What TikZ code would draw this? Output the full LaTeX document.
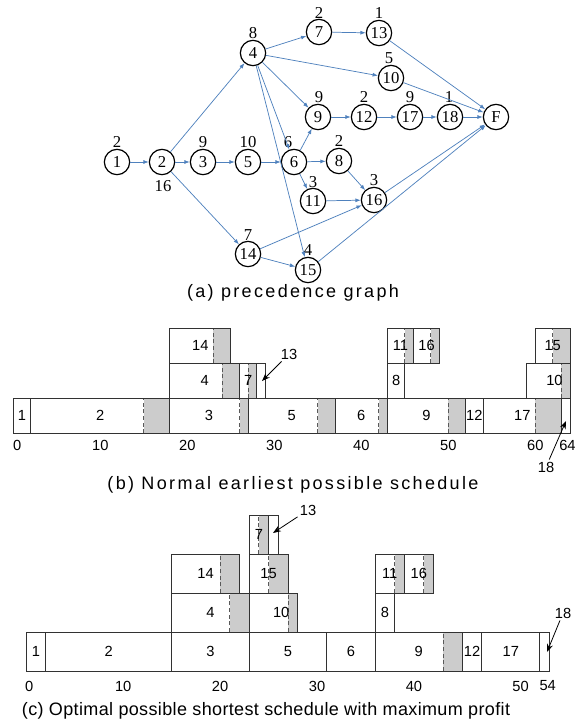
\documentclass[tikz,border=0pt]{standalone}
\usepackage{fontspec}
\setmainfont{Liberation Serif}
\newfontfamily\schedfont{Liberation Sans}
\newfontfamily\capwide[LetterSpace=13]{Liberation Sans}
\newfontfamily\capnarrow[LetterSpace=2]{Liberation Sans}
\usetikzlibrary{arrows.meta}
\definecolor{edgeblue}{RGB}{79,129,189}
\definecolor{shade}{RGB}{204,204,204}
\definecolor{boxline}{RGB}{50,50,50}
\tikzset{
 task/.style={circle, draw=black, line width=0.9pt, minimum size=19pt, inner sep=0pt, font=\fontsize{12.5}{12.5}\selectfont},
 dur/.style={font=\fontsize{12.5}{12.5}\selectfont, inner sep=0pt},
 prec/.style={draw=edgeblue, line width=0.55pt, -{Latex[length=4pt,width=3pt]}},
 jobbox/.style={draw=boxline, line width=0.7pt},
 gfill/.style={fill=shade},
 dashln/.style={draw=black!65, line width=0.7pt, dash pattern=on 3pt off 2pt},
 joblbl/.style={font=\schedfont\fontsize{11}{12}\selectfont, inner sep=0pt},
 axlbl/.style={font=\schedfont\fontsize{11}{12}\selectfont, inner sep=0pt},
 calllbl/.style={font=\schedfont\fontsize{11}{12}\selectfont, inner sep=1.5pt},
 callout/.style={draw=black, line width=0.6pt, -{Stealth[length=6pt,width=4.5pt]}},
 capnode/.style={inner sep=0pt}
}
% name start end row label
\newcommand{\schedW}[5]{%
  \draw[jobbox] (#2,#4) rectangle (#3,#4+1);
  \node[joblbl] (#1) at ({(#2+#3)/2},#4+0.5) {#5};}
% name start dash end row label
\newcommand{\schedG}[6]{%
  \fill[gfill] (#3,#5) rectangle (#4,#5+1);
  \draw[dashln] (#3,#5) -- (#3,#5+1);
  \draw[jobbox] (#2,#5) rectangle (#4,#5+1);
  \node[joblbl] (#1) at ({(#2+#4)/2},#5+0.5) {#6};}
\begin{document}
\begin{tikzpicture}[x=0.75pt,y=-0.75pt]
\useasboundingbox (0,0) rectangle (579,721);
% ---------- (a) precedence graph ----------
\node[task] (n1) at (117,162) {1};
\node[task] (n2) at (162,162) {2};
\node[task] (n3) at (203,162) {3};
\node[task] (n5) at (248,162) {5};
\node[task] (n6) at (294,162) {6};
\node[task] (n8) at (339,161) {8};
\node[task] (n4) at (253,53) {4};
\node[task] (n7) at (319,32) {7};
\node[task] (n13) at (379,33) {13};
\node[task] (n10) at (391,78) {10};
\node[task] (n9) at (318,117) {9};
\node[task] (n12) at (364,117) {12};
\node[task] (n17) at (410,117) {17};
\node[task] (n18) at (450,117) {18};
\node[task] (nF) at (496,117) {F};
\node[task] (n11) at (313,201) {11};
\node[task] (n16) at (374,200) {16};
\node[task] (n14) at (248,254) {14};
\node[task] (n15) at (308,270) {15};
% durations
\path (n1) ++(0,-20) node[dur] (d1) {2};
\path (n2) ++(1,24) node[dur] (d2) {16};
\path (n3) ++(0,-20) node[dur] (d3) {9};
\path (n4) ++(0,-20) node[dur] (d4) {8};
\path (n5) ++(0,-20) node[dur] (d5) {10};
\path (n6) ++(-6,-20) node[dur] (d6) {6};
\path (n7) ++(0,-19) node[dur] (d7) {2};
\path (n8) ++(0,-20) node[dur] (d8) {2};
\path (n9) ++(1,-20) node[dur] (d9) {9};
\path (n10) ++(-2,-20) node[dur] (d10) {5};
\path (n11) ++(0,-19) node[dur] (d11) {3};
\path (n12) ++(0,-20) node[dur] (d12) {2};
\path (n13) ++(0,-20) node[dur] (d13) {1};
\path (n14) ++(0,-19) node[dur] (d14) {7};
\path (n15) ++(0,-20) node[dur] (d15) {4};
\path (n16) ++(0,-20) node[dur] (d16) {3};
\path (n17) ++(0,-20) node[dur] (d17) {9};
\path (n18) ++(-1,-20) node[dur] (d18) {1};
% edges
\draw[prec] (n1) -- (n2);
\draw[prec] (n2) -- (n3);
\draw[prec] (n3) -- (n5);
\draw[prec] (n5) -- (n6);
\draw[prec] (n6) -- (n8);
\draw[prec] (n2) -- (n4);
\draw[prec] (n2) -- (n14);
\draw[prec] (n4) -- (n7);
\draw[prec] (n7) -- (n13);
\draw[prec] (n4) -- (n10);
\draw[prec] (n4) -- (n9);
\draw[prec] (n4) -- (n6);
\draw[prec] (n4) -- (n15);
\draw[prec] (n6) -- (n9);
\draw[prec] (n6) -- (n11);
\draw[prec] (n9) -- (n12);
\draw[prec] (n12) -- (n17);
\draw[prec] (n17) -- (n18);
\draw[prec] (n18) -- (nF);
\draw[prec] (n13) -- (nF);
\draw[prec] (n10) -- (nF);
\draw[prec] (n8) -- (n16);
\draw[prec] (n11) -- (n16);
\draw[prec] (n14) -- (n16);
\draw[prec] (n14) -- (n15);
\draw[prec] (n16) -- (nF);
\draw[prec] (n15) -- (nF);
\node[capnode, font=\capwide\fontsize{13.5}{15}\selectfont] (capa) at (293,293) {(a) precedence graph};
% ---------- (b) normal earliest schedule ----------
\begin{scope}[shift={(13.3,433.3)}, x=6.525pt, y=26.25pt]
\schedW{b1}{0}{2}{0}{1}
\schedG{b2}{2}{15}{18}{0}{2}
\schedG{b3}{18}{26}{27}{0}{3}
\schedG{b5}{27}{35}{37}{0}{5}
\schedG{b6}{37}{42}{43}{0}{6}
\schedG{b9}{43}{50}{52}{0}{9}
\schedW{b12}{52}{54}{0}{12}
\schedG{b17}{54}{60}{63}{0}{17}
\schedW{b18}{63}{64}{0}{}
\schedG{b4}{18}{24}{26}{1}{4}
\schedG{b7}{26}{27}{28}{1}{7}
\schedW{b13}{28}{29}{1}{}
\schedW{b8}{43}{45}{1}{8}
\schedG{b10}{59}{63}{64}{1}{}
\node[joblbl] (b10t) at (62.2,1.5) {10};
\schedG{b14}{18}{23}{25}{2}{14}
\schedG{b11}{43}{45}{46}{2}{11}
\schedG{b16}{46}{48}{49}{2}{16}
\schedG{b15}{60}{62}{64}{2}{15}
\node[axlbl] (bx0) at (0.45,-0.36) {0};
\node[axlbl] (bx10) at (10,-0.36) {10};
\node[axlbl] (bx20) at (20,-0.36) {20};
\node[axlbl] (bx30) at (30,-0.36) {30};
\node[axlbl] (bx40) at (40,-0.36) {40};
\node[axlbl] (bx50) at (50,-0.36) {50};
\node[axlbl] (bx60) at (60,-0.36) {60};
\node[axlbl] (bx64) at (63.7,-0.36) {64};
\end{scope}
\node[calllbl] (lb13) at (289,354) {13};
\coordinate (tb13) at (262,381);
\draw[callout] (lb13) -- (tb13);
\node[calllbl] (lb18) at (546,467) {18};
\coordinate (tb18) at (566,421);
\draw[callout] (lb18) -- (tb18);
\node[capnode, font=\capwide\fontsize{13.5}{15}\selectfont] (capb) at (293,485) {(b) Normal earliest possible schedule};
% ---------- (c) optimal schedule ----------
\begin{scope}[shift={(26.35,671)}, x=7.2675pt, y=29.25pt]
\schedW{c1}{0}{2}{0}{1}
\schedW{c2}{2}{15}{0}{2}
\schedW{c3}{15}{23}{0}{3}
\schedW{c5}{23}{31}{0}{5}
\schedW{c6}{31}{36}{0}{6}
\schedG{c9}{36}{43}{45}{0}{9}
\schedW{c12}{45}{47}{0}{12}
\schedW{c17}{47}{53}{0}{17}
\schedW{c18}{53}{54}{0}{}
\schedG{c4}{15}{21}{23}{1}{4}
\schedG{c10}{23}{27}{28}{1}{}
\node[joblbl] (c10t) at (26.3,1.5) {10};
\schedW{c8}{36}{38}{1}{8}
\schedG{c14}{15}{20}{22}{2}{14}
\schedG{c15}{23}{25}{27}{2}{15}
\schedG{c11}{36}{38}{39}{2}{11}
\schedG{c16}{39}{41}{42}{2}{16}
\schedG{c7}{23}{24}{25}{3}{7}
\schedW{c13}{25}{26}{3}{}
\node[axlbl] (cx0) at (0.3,-0.385) {0};
\node[axlbl] (cx10) at (10,-0.385) {10};
\node[axlbl] (cx20) at (20,-0.385) {20};
\node[axlbl] (cx30) at (30,-0.385) {30};
\node[axlbl] (cx40) at (40,-0.385) {40};
\node[axlbl] (cx50) at (51,-0.385) {50};
\node[axlbl] (cx54) at (53.8,-0.385) {54};
\end{scope}
\node[calllbl] (lc13) at (308,510) {13};
\coordinate (tc13) at (273,533);
\draw[callout] (lc13) -- (tc13);
\node[calllbl] (lc18) at (563,613) {18};
\coordinate (tc18) at (547,652);
\draw[callout] (lc18) -- (tc18);
\node[capnode, font=\capnarrow\fontsize{13.5}{15}\selectfont] (capc) at (266,711) {(c) Optimal possible shortest schedule with maximum profit};
\end{tikzpicture}
\end{document}
